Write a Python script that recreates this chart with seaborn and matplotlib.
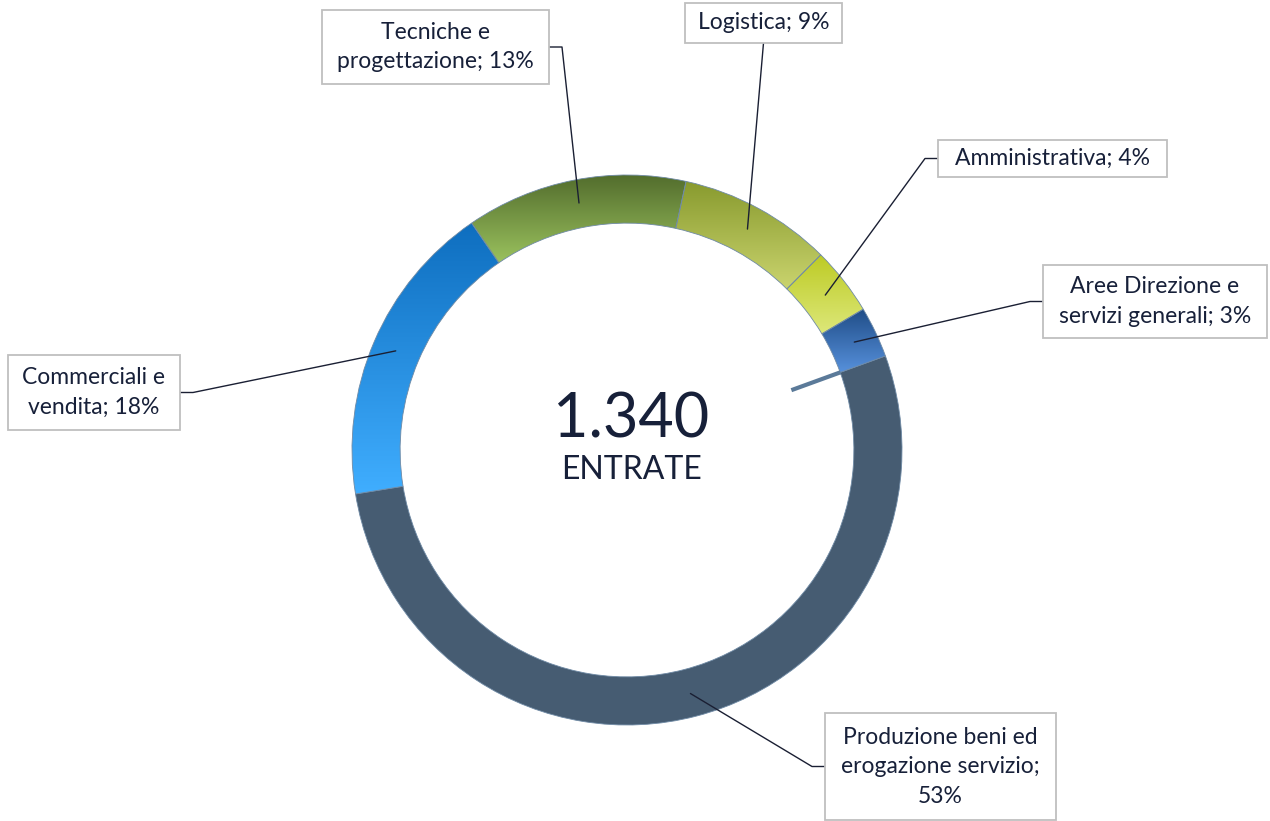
"""Doughnut chart: entrate per area aziendale."""

import numpy as np
import matplotlib.pyplot as plt
from matplotlib.patches import Rectangle
import seaborn as sns

# ---- data ----
areas = [
    "Produzione beni ed\nerogazione servizio;\n53%",
    "Commerciali e\nvendita; 18%",
    "Tecniche e\nprogettazione; 13%",
    "Logistica; 9%",
    "Amministrativa; 4%",
    "Aree Direzione e\nservizi generali; 3%",
]
shares = [53, 18, 13, 9, 4, 3]
total_label = "1.340"
total_caption = "ENTRATE"

# gradient colours per wedge (top, bottom); None = flat
top_colors = ["#465C72", "#0E6EBF", "#516B2C", "#889A2E", "#BDCB25", "#1F4C86"]
bottom_colors = [None, "#40AEFF", "#9BC25E", "#CAD46E", "#DDE87A", "#5690DB"]

# label boxes in pixel coords (x0, y0, x1, y1, side where the leader attaches)
boxes = [
    (825, 713, 1056, 820, "left"),
    (8, 355, 180, 430, "right"),
    (322, 10, 549, 84, "right"),
    (685, 3, 842, 43, "bottom"),
    (938, 140, 1167, 177, "left"),
    (1043, 265, 1267, 338, "left"),
]

W, H = 1270, 821
CX, CY, R = 627, 450, 275  # pixel centre and outer radius
TEXT = "#172039"

sns.set_theme(style="white")
plt.rcParams["font.family"] = ["Lato", "DejaVu Sans"]


def px(x, y):
    """pixel (from top-left) -> data coords of the unit-radius pie"""
    return (x - CX) / R, (CY - y) / R


fig = plt.figure(figsize=(W / 100, H / 100), dpi=100)
ax = fig.add_axes([0, 0, 1, 1])
ax.axis("off")

start = 20
wedges, _ = ax.pie(
    shares,
    startangle=start,
    counterclock=False,
    radius=1,
    colors=top_colors,
    wedgeprops=dict(width=0.175, edgecolor="#6F8AA5", linewidth=0.6),
)

# vertical gradient fills, clipped to each wedge
grad = np.linspace(0, 1, 256).reshape(-1, 1)
for w, top, bottom in zip(wedges, top_colors, bottom_colors):
    if bottom is None:
        continue
    v = w.get_path().vertices[:-1]  # last vertex is the CLOSEPOLY dummy
    cmap = sns.blend_palette([bottom, top], as_cmap=True)
    im = ax.imshow(grad, cmap=cmap, origin="lower", aspect="auto",
                   extent=[v[:, 0].min(), v[:, 0].max(), v[:, 1].min(), v[:, 1].max()],
                   zorder=w.get_zorder())
    im.set_clip_path(w)
    w.set_facecolor("none")
    w.set_zorder(w.get_zorder() + 0.5)

# odd little stub along the start angle
a = np.deg2rad(start)
ax.plot([0.636 * np.cos(a), 0.826 * np.cos(a)], [0.636 * np.sin(a), 0.826 * np.sin(a)],
        color="#5B7A99", lw=3, solid_capstyle="butt", zorder=5)

# labels with leader lines
for w, label, (x0, y0, x1, y1, side) in zip(wedges, areas, boxes):
    mid = np.deg2rad((w.theta1 + w.theta2) / 2)
    ax_, ay_ = 0.915 * np.cos(mid), 0.915 * np.sin(mid)
    bx0, by1 = px(x0, y0)
    bx1, by0 = px(x1, y1)
    ax.add_patch(Rectangle((bx0, by0), bx1 - bx0, by1 - by0, fc="white",
                           ec="#BFBFBF", lw=1.3, zorder=6))
    cy_ = (by0 + by1) / 2
    ax.text((bx0 + bx1) / 2, cy_, label, ha="center", va="center",
            fontsize=16.5, color=TEXT, linespacing=1.5, zorder=7)
    el = 13 / R
    if side == "left":
        xs, ys = [ax_, bx0 - el, bx0], [ay_, cy_, cy_]
    elif side == "right":
        xs, ys = [ax_, bx1 + el, bx1], [ay_, cy_, cy_]
    else:
        xs, ys = [ax_, (bx0 + bx1) / 2], [ay_, by0]
    ax.plot(xs, ys, color="#1A1F33", lw=1, zorder=5)

# centre text
ax.text(*px(631, 420), total_label, ha="center", va="center", fontsize=44, color=TEXT)
ax.text(*px(632, 470), total_caption, ha="center", va="center", fontsize=23, color=TEXT)

ax.set_xlim(-CX / R, (W - CX) / R)
ax.set_ylim(-(H - CY) / R, CY / R)

fig.savefig("out.png", dpi=100, facecolor="white")
